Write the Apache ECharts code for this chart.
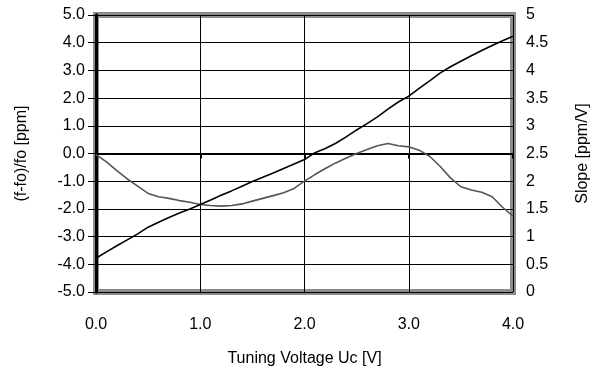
<!DOCTYPE html>
<html>
<head>
<meta charset="utf-8">
<script src="https://cdn.jsdelivr.net/npm/echarts@6/dist/echarts.min.js"></script>
<style>
  html, body { margin: 0; padding: 0; background: #fff; }
  #chart { width: 594px; height: 369px; }
</style>
</head>
<body>
<div id="chart"></div>
<script>
// tuning voltage [V]
const voltage = [0.0, 0.1, 0.2, 0.3, 0.4, 0.5, 0.6, 0.7, 0.8, 0.9,
                 1.0, 1.1, 1.2, 1.3, 1.4, 1.5, 1.6, 1.7, 1.8, 1.9,
                 2.0, 2.1, 2.2, 2.3, 2.4, 2.5, 2.6, 2.7, 2.8, 2.9,
                 3.0, 3.1, 3.2, 3.3, 3.4, 3.5, 3.6, 3.7, 3.8, 3.9, 4.0];
// (f-fo)/fo [ppm], left axis
const deviation = [-3.78, -3.55, -3.33, -3.12, -2.90, -2.66, -2.48, -2.31, -2.15, -2.00,
                   -1.84, -1.68, -1.51, -1.35, -1.18, -1.01, -0.86, -0.70, -0.54, -0.38,
                   -0.22, 0.03, 0.18, 0.37, 0.60, 0.85, 1.08, 1.32, 1.60, 1.86,
                   2.07, 2.35, 2.62, 2.90, 3.13, 3.33, 3.53, 3.72, 3.90, 4.07, 4.23];
// slope [ppm/V], right axis
const slope = [2.48, 2.35, 2.19, 2.04, 1.91, 1.78, 1.72, 1.69, 1.65, 1.62,
               1.58, 1.56, 1.55, 1.56, 1.59, 1.64, 1.69, 1.74, 1.79, 1.87,
               2.00, 2.12, 2.23, 2.33, 2.42, 2.50, 2.57, 2.64, 2.68, 2.64,
               2.62, 2.56, 2.45, 2.27, 2.06, 1.90, 1.84, 1.80, 1.72, 1.53, 1.37];

const font = "Liberation Sans, Arial, sans-serif";

const chart = echarts.init(document.getElementById("chart"));
chart.setOption({
  animation: false,
  grid: {
    left: 96,
    right: 81,
    top: 15,
    bottom: 77,
    containLabel: false,
    outerBoundsMode: "none",
    show: true,
    borderColor: "#8c8c8c",
    borderWidth: 6
  },
  xAxis: [
    {
      type: "value",
      min: 0,
      max: 4,
      interval: 1,
      position: "bottom",
      axisLine: { show: false, onZero: false },
      axisTick: { show: false },
      axisLabel: {
        margin: 25,
        color: "#000",
        fontFamily: font,
        fontSize: 16,
        formatter: v => v.toFixed(1)
      },
      splitLine: { show: true, lineStyle: { color: "#000", width: 1 } },
      name: "Tuning Voltage Uc [V]",
      nameLocation: "middle",
      nameGap: 59,
      nameTextStyle: { color: "#000", fontFamily: font, fontSize: 16 }
    },
    {
      // the axis line through 0 ppm
      type: "value",
      min: 0,
      max: 4,
      interval: 1,
      position: "bottom",
      axisLine: { show: true, onZero: true, lineStyle: { color: "#000", width: 2 } },
      axisTick: { show: true, inside: false, length: 5, lineStyle: { color: "#000", width: 2 } },
      axisLabel: { show: false },
      splitLine: { show: false }
    }
  ],
  yAxis: [
    {
      type: "value",
      min: -5,
      max: 5,
      interval: 1,
      position: "left",
      axisLine: { show: true, lineStyle: { color: "#000", width: 3 } },
      axisTick: { show: true, length: 8, lineStyle: { color: "#000", width: 1 } },
      axisLabel: {
        margin: 11,
        color: "#000",
        fontFamily: font,
        fontSize: 16,
        formatter: v => v.toFixed(1)
      },
      splitLine: { show: true, lineStyle: { color: "#000", width: 1 } },
      name: "(f-fo)/fo [ppm]",
      nameLocation: "middle",
      nameGap: 66,
      nameRotate: 90,
      nameTextStyle: { color: "#000", fontFamily: font, fontSize: 16 }
    },
    {
      type: "value",
      min: 0,
      max: 5,
      interval: 0.5,
      position: "right",
      axisLine: { show: true, lineStyle: { color: "#000", width: 3 } },
      axisTick: { show: true, length: 6, lineStyle: { color: "#000", width: 1 } },
      axisLabel: {
        margin: 13,
        color: "#000",
        fontFamily: font,
        fontSize: 16
      },
      splitLine: { show: false },
      name: "Slope [ppm/V]",
      nameLocation: "middle",
      nameGap: 62,
      nameRotate: 90,
      nameTextStyle: { color: "#000", fontFamily: font, fontSize: 16 }
    }
  ],
  series: [
    {
      name: "(f-fo)/fo",
      type: "line",
      xAxisIndex: 0,
      yAxisIndex: 0,
      data: voltage.map((v, i) => [v, deviation[i]]),
      showSymbol: false,
      lineStyle: { color: "#000", width: 1.6 },
      z: 4
    },
    {
      name: "Slope",
      type: "line",
      xAxisIndex: 0,
      yAxisIndex: 1,
      data: voltage.map((v, i) => [v, slope[i]]),
      showSymbol: false,
      lineStyle: { color: "#555", width: 1.6 },
      z: 3
    }
  ]
});
</script>
</body>
</html>
